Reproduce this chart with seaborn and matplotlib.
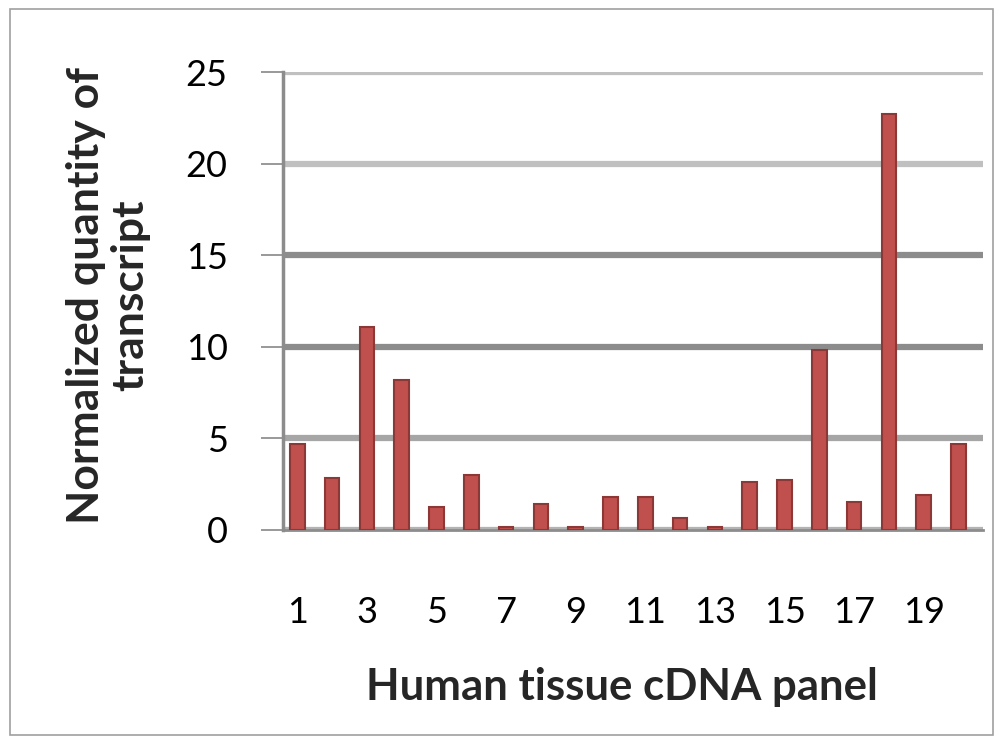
import numpy as np
import pandas as pd
import matplotlib
matplotlib.use("Agg")
import matplotlib.pyplot as plt
import seaborn as sns
from matplotlib.patches import Rectangle


# --------------------------------------------------
# Data
# --------------------------------------------------

panels = [str(i) for i in range(1, 21)]
quantities = [
    4.7, 2.85, 11.1, 8.2, 1.25, 3.0, 0.12, 1.4, 0.12, 1.8,
    1.8, 0.62, 0.12, 2.6, 2.7, 9.8, 1.5, 22.7, 1.9, 4.7,
]
y_ticks = [0, 5, 10, 15, 20, 25]
x_tick_labels = [str(i) for i in range(1, 21, 2)]

df = pd.DataFrame({"panel": panels, "quantity": quantities})


# --------------------------------------------------
# Figure
# --------------------------------------------------

sns.set_style("white")
plt.rcParams["font.family"] = ["Lato", "DejaVu Sans"]

fig = plt.figure(figsize=(10.01, 7.45), dpi=100)
ax = fig.add_axes([0.283, 0.289, 0.699, 0.614])

sns.barplot(
    data=df,
    x="panel",
    y="quantity",
    order=panels,
    color="#C0504D",
    edgecolor="#8C3836",
    linewidth=1.5,
    width=0.42,
    saturation=1,
    ax=ax,
    zorder=3,
)

ax.set_ylim(0, 25)
ax.set_xlim(-0.4, 19.7)
ax.set_yticks(y_ticks)
ax.set_yticklabels([str(t) for t in y_ticks], fontsize=26, color="black")
ax.set_xticks(range(0, 20, 2))
ax.set_xticklabels(x_tick_labels, fontsize=26, color="black")
ax.tick_params(axis="x", length=0, pad=48)
ax.tick_params(axis="y", length=16, width=1.2, color="#888888", pad=24, left=True)

# gridlines, shaded like the back wall
grid_colors = ["#b3b3b3", "#a6a6a6", "#8c8c8c", "#8c8c8c", "#c0c0c0", "#c0c0c0"]
for value, c in zip(y_ticks, grid_colors):
    ax.axhline(value, color=c, linewidth=4.5, zorder=1)

for side in ["top", "right"]:
    ax.spines[side].set_visible(False)
ax.spines["left"].set_color("#8c8c8c")
ax.spines["left"].set_linewidth(2.5)
ax.spines["bottom"].set_color("#8c8c8c")
ax.spines["bottom"].set_linewidth(2)

ax.set_xlabel("")
ax.set_ylabel("")

fig.text(
    0.621, 0.078,
    "Human tissue cDNA panel",
    ha="center", va="center",
    fontsize=31.5, fontweight="bold",
)
fig.text(
    0.108, 0.604,
    "Normalized quantity of\ntranscript",
    ha="center", va="center",
    rotation=90, multialignment="center",
    fontsize=32, fontweight="bold", linespacing=1.1,
)

# chart border
fig.patches.append(
    Rectangle(
        (0.01, 0.013), 0.982, 0.975,
        transform=fig.transFigure,
        fill=False, edgecolor="#a0a0a0", linewidth=1.2,
    )
)

fig.savefig("out.png", dpi=100)
